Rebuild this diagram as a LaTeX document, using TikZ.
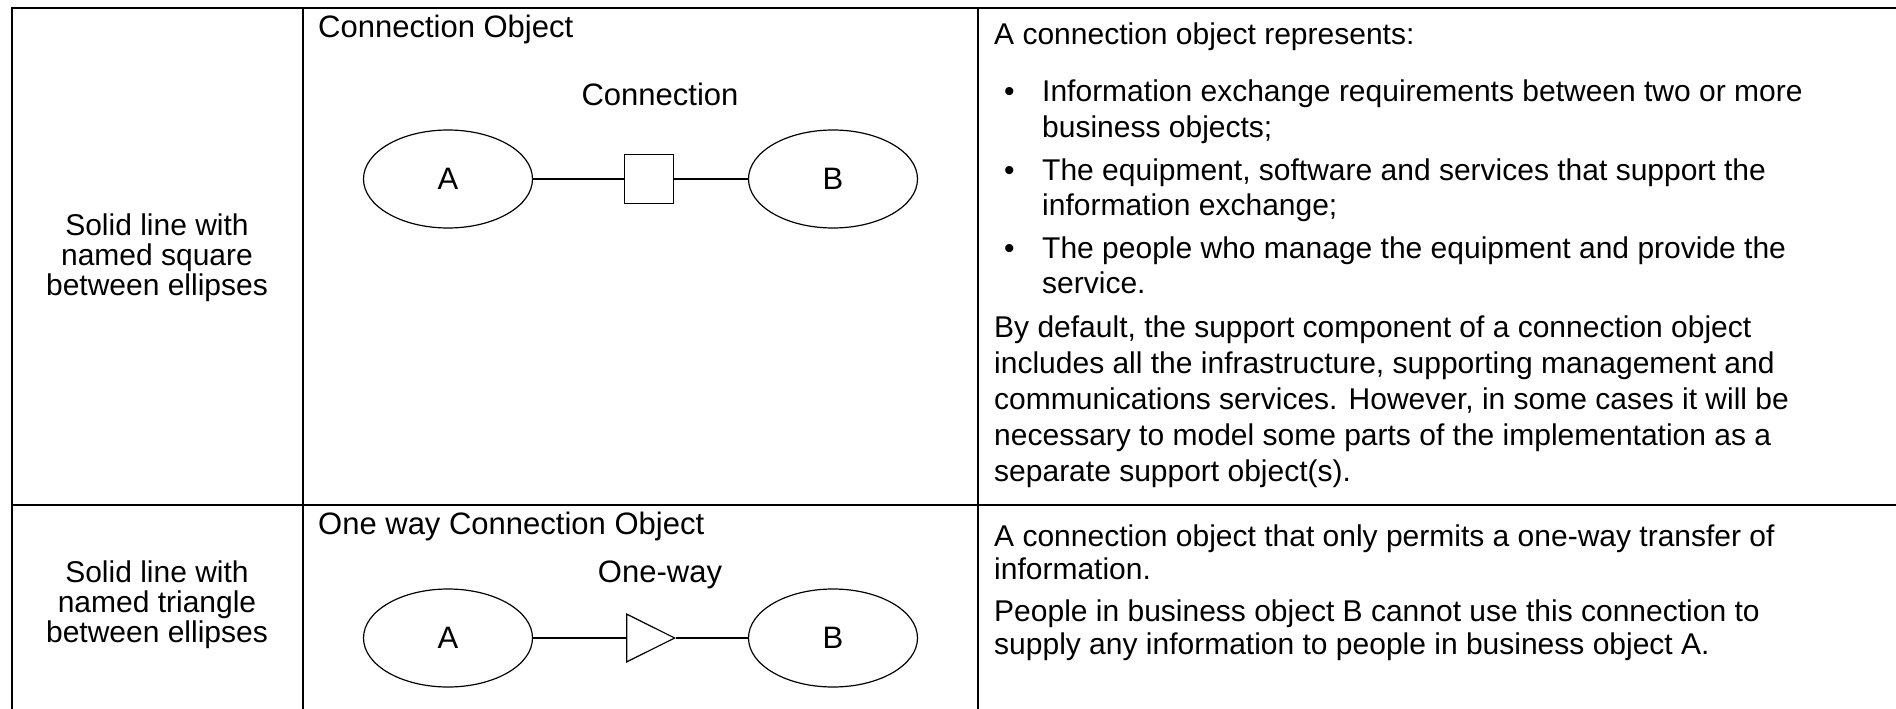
\documentclass[tikz,border=0pt]{standalone}
\usepackage{fontspec}
\setmainfont{Liberation Sans}
\usetikzlibrary{shapes.geometric}
\begin{document}
\begin{tikzpicture}[x=1pt,y=-1pt,
  grid/.style={line width=2pt},
  txt/.style={inner sep=0pt,font=\fontsize{30}{34}\selectfont},
  lt/.style={txt,anchor=base west},
  ct/.style={txt,anchor=base},
  fig/.style={inner sep=0pt,font=\fontsize{31}{34}\selectfont},
  obj/.style={ellipse,draw,line width=1.2pt,minimum width=169pt,minimum height=98pt,inner sep=0pt,font=\fontsize{31}{34}\selectfont},
  link/.style={line width=1.2pt},
  sq/.style={rectangle,draw,line width=1.2pt,minimum size=49pt,inner sep=0pt},
  tri/.style={isosceles triangle,draw,line width=1.2pt,isosceles triangle apex angle=53,minimum height=48pt,inner sep=0pt}]
\useasboundingbox (0,0) rectangle (1896,709);
% table rules
\draw[grid] (12,709) -- (12,8) -- (1896,8);
\draw[grid] (303,8) -- (303,709);
\draw[grid] (978,8) -- (978,709);
\draw[grid] (12,505) -- (1896,505);
% left column
\node[ct] (l1a) at (157,235) {Solid line with};
\node[ct] (l1b) at (157,265) {named square};
\node[ct] (l1c) at (157,295) {between ellipses};
\node[ct] (l2a) at (157,582) {Solid line with};
\node[ct] (l2b) at (157,612) {named triangle};
\node[ct] (l2c) at (157,642) {between ellipses};
% row 1 diagram
\node[fig,anchor=base west] (t1) at (318,38) {Connection Object};
\node[fig,anchor=base] (c1) at (660,105) {Connection};
\node[obj] (a1) at (448,179) {A};
\node[obj] (b1) at (833,179) {B};
\node[sq] (s1) at (649,179) {};
\draw[link] (a1) -- (s1) -- (b1);
% row 2 diagram
\node[fig,anchor=base west] (t2) at (318,534) {One way Connection Object};
\node[fig,anchor=base] (c2) at (660,582) {One-way};
\node[obj] (a2) at (448,638) {A};
\node[obj] (b2) at (833,638) {B};
\node[tri,anchor=apex] (s2) at (676,638) {};
\draw[link] (a2) -- (s2.west);
\draw[link] (s2.apex) -- (b2);
% right column, row 1
\node[lt] (r1) at (994,45) {A connection object represents:};
\foreach \y/\s [count=\i] in {102/Information exchange requirements between two or more,
  137/business objects;,
  180/{The equipment, software and services that support the},
  215/information exchange;,
  258/The people who manage the equipment and provide the,
  293/service.}{
  \node[lt] (rb\i) at (1042,\y) {\s};
}
\node[lt] (d1) at (1004,102) {•};
\node[lt] (d2) at (1004,180) {•};
\node[lt] (d3) at (1004,258) {•};
\node[lt] (p1) at (994,337) {By default, the support component of a connection object};
\node[lt] (p2) at (994,373) {includes all the infrastructure, supporting management and};
\node[lt] (p3) at (994,409) {communications services. However, in some cases it will be};
\node[lt] (p4) at (994,445) {necessary to model some parts of the implementation as a};
\node[lt] (p5) at (994,481) {separate support object(s).};
% right column, row 2
\node[lt] (q1) at (994,546) {A connection object that only permits a one-way transfer of};
\node[lt] (q2) at (994,579) {information.};
\node[lt] (q3) at (994,621) {People in business object B cannot use this connection to};
\node[lt] (q4) at (994,654) {supply any information to people in business object A.};
\end{tikzpicture}
\end{document}
